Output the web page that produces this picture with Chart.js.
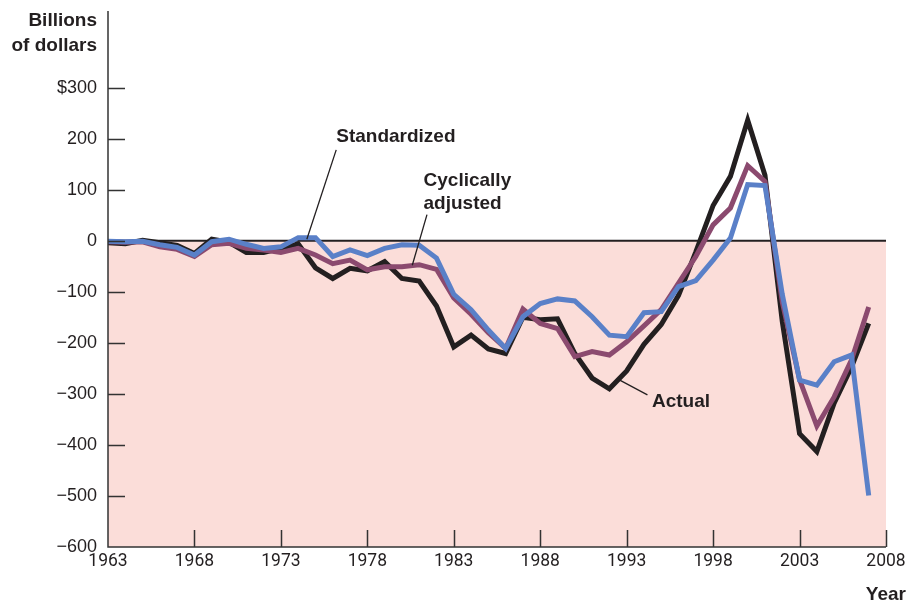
<!DOCTYPE html>
<html>
<head>
<meta charset="utf-8">
<script src="https://cdn.jsdelivr.net/npm/chart.js@4.4.1/dist/chart.umd.min.js"></script>
<style>
body { margin: 0; background: #fff; }
#caja { width: 908px; height: 605px; }
</style>
</head>
<body>
<div id="caja"><canvas id="grafica" width="908" height="605"></canvas></div>
<script>
// datos (miles de millones de dolares)
var anios = [1963, 1964, 1965, 1966, 1967, 1968, 1969, 1970, 1971, 1972,
             1973, 1974, 1975, 1976, 1977, 1978, 1979, 1980, 1981, 1982,
             1983, 1984, 1985, 1986, 1987, 1988, 1989, 1990, 1991, 1992,
             1993, 1994, 1995, 1996, 1997, 1998, 1999, 2000, 2001, 2002,
             2003, 2004, 2005, 2006, 2007];
var actual = [-4, -6, 1, -4, -9, -25, 3, -3, -23, -23,
              -15, -6, -53, -74, -54, -59, -41, -74, -79, -128,
              -208, -185, -212, -221, -150, -155, -153, -221, -269, -290,
              -255, -203, -164, -107, -22, 69, 126, 236, 128, -158,
              -378, -413, -318, -248, -162];
var ciclico = [-2, -3, -2, -12, -17, -31, -8, -5, -15, -18,
               -23, -15, -28, -45, -38, -57, -51, -51, -47, -56,
               -112, -144, -180, -211, -134, -162, -172, -227, -217, -224,
               -198, -167, -135, -83, -31, 31, 64, 147, 116, -120,
               -272, -363, -306, -234, -130];
var estandar = [-1, -2, -1, -8, -13, -28, -2, 3, -7, -15,
                -12, 6, 6, -31, -18, -29, -15, -8, -9, -34,
                -105, -135, -175, -211, -149, -123, -114, -118, -149, -185,
                -188, -141, -139, -90, -78, -38, 5, 110, 108, -105,
                -273, -283, -237, -224, -499];
var ticksX = [1963, 1968, 1973, 1978, 1983, 1988, 1993, 1998, 2003, 2008];
var ticksY = [-600, -500, -400, -300, -200, -100, 0, 100, 200, 300];

// notas con linea guia (en coordenadas del grafico)
var notas = [
    { lineas: ['Standardized'], x: 1976.2, y: 204, desde: [1976.2, 178], hasta: [1974.5, 3] },
    { lineas: ['Cyclically', 'adjusted'], x: 1981.25, y: 117, desde: [1981.45, 51], hasta: [1980.6, -48] },
    { lineas: ['Actual'], x: 1994.46, y: -316, desde: [1994.2, -302], hasta: [1992.6, -273] }
];

var oscuro = '#231f20';

function puntos(valores) {
    var lista = [];
    for (var i = 0; i < anios.length; i++) {
        lista.push({ x: anios[i], y: valores[i] });
    }
    return lista;
}

var fondo = {
    id: 'fondo',
    beforeDatasetsDraw: function(chart) {
        var ctx = chart.ctx;
        var a = chart.chartArea;
        var sx = chart.scales.x, sy = chart.scales.y;
        var y0 = sy.getPixelForValue(0);
        var derecha = sx.getPixelForValue(2008);
        ctx.save();
        ctx.fillStyle = '#fbddd9';
        ctx.fillRect(a.left, y0, derecha - a.left, a.bottom - y0);
        ctx.strokeStyle = oscuro;
        ctx.lineWidth = 2;
        ctx.beginPath();
        ctx.moveTo(a.left, y0);
        ctx.lineTo(derecha, y0);
        ctx.stroke();
        ctx.restore();
    },
    afterDatasetsDraw: function(chart) {
        var ctx = chart.ctx;
        var a = chart.chartArea;
        var sx = chart.scales.x, sy = chart.scales.y;
        ctx.save();
        ctx.strokeStyle = '#333';
        ctx.lineWidth = 1.5;
        ctx.beginPath();
        ctx.moveTo(a.left, a.top);
        ctx.lineTo(a.left, a.bottom);
        ctx.lineTo(sx.getPixelForValue(2008), a.bottom);
        ticksY.forEach(function(v) {
            if (v == -600) return;
            var py = Math.round(sy.getPixelForValue(v)) + 0.5;
            ctx.moveTo(a.left, py);
            ctx.lineTo(a.left + 17, py);
        });
        ticksX.forEach(function(v) {
            if (v == 1963) return;
            var px = Math.round(sx.getPixelForValue(v)) + 0.5;
            ctx.moveTo(px, a.bottom);
            ctx.lineTo(px, a.bottom - 17);
        });
        ctx.stroke();

        // notas
        ctx.fillStyle = oscuro;
        ctx.strokeStyle = oscuro;
        ctx.lineWidth = 1.3;
        ctx.font = 'bold 19px "Liberation Sans", Arial, sans-serif';
        ctx.textAlign = 'left';
        ctx.textBaseline = 'middle';
        notas.forEach(function(n) {
            var px = sx.getPixelForValue(n.x);
            var py = sy.getPixelForValue(n.y);
            n.lineas.forEach(function(t, k) {
                ctx.fillText(t, px, py + k * 23);
            });
            ctx.beginPath();
            ctx.moveTo(sx.getPixelForValue(n.desde[0]), sy.getPixelForValue(n.desde[1]));
            ctx.lineTo(sx.getPixelForValue(n.hasta[0]), sy.getPixelForValue(n.hasta[1]));
            ctx.stroke();
        });

        // titulos de ejes
        ctx.textAlign = 'right';
        ctx.textBaseline = 'alphabetic';
        ctx.fillText('Billions', 97, 26);
        ctx.fillText('of dollars', 97, 51);
        ctx.fillText('Year', 906, 600);
        ctx.restore();
    }
};

var ctx = document.getElementById('grafica');
var myChart = new Chart(ctx, {
    type: 'line',
    data: {
        datasets: [
            {
                label: 'Standardized',
                data: puntos(estandar),
                borderColor: '#5a80c8',
                borderWidth: 5
            },
            {
                label: 'Cyclically adjusted',
                data: puntos(ciclico),
                borderColor: '#8b4a6f',
                borderWidth: 5
            },
            {
                label: 'Actual',
                data: puntos(actual),
                borderColor: oscuro,
                borderWidth: 5
            }
        ]
    },
    options: {
        responsive: false,
        animation: false,
        layout: { padding: { top: 11, right: 22, left: 0, bottom: 0 } },
        elements: {
            point: { radius: 0 },
            line: { tension: 0, borderJoinStyle: 'miter', fill: false }
        },
        plugins: {
            legend: { display: false },
            tooltip: { enabled: false }
        },
        scales: {
            x: {
                type: 'linear',
                min: 1963,
                max: 2008,
                grid: { display: false, drawTicks: false },
                border: { display: false },
                afterBuildTicks: function(scale) {
                    scale.ticks = ticksX.map(function(v) { return { value: v }; });
                },
                afterFit: function(scale) {
                    scale.height = 58;
                    scale.paddingLeft = 0;
                    scale.paddingRight = 0;
                },
                ticks: {
                    autoSkip: false,
                    maxRotation: 0,
                    padding: 4,
                    color: '#231f20',
                    font: { family: 'Roboto, sans-serif', size: 17.5 },
                    callback: function(v) { return String(v); }
                }
            },
            y: {
                min: -600,
                max: 450,
                grid: { display: false, drawTicks: false },
                border: { display: false },
                afterBuildTicks: function(scale) {
                    scale.ticks = ticksY.map(function(v) { return { value: v }; });
                },
                afterFit: function(scale) {
                    scale.width = 108;
                    scale.paddingTop = 0;
                    scale.paddingBottom = 0;
                },
                ticks: {
                    padding: 11,
                    color: '#231f20',
                    font: { family: '"Liberation Sans", Arial, sans-serif', size: 18 },
                    callback: function(v) {
                        if (v == 300) return '$300';
                        if (v < 0) return '\u2212' + Math.abs(v);
                        return String(v);
                    }
                }
            }
        }
    },
    plugins: [fondo]
});
</script>
</body>
</html>
